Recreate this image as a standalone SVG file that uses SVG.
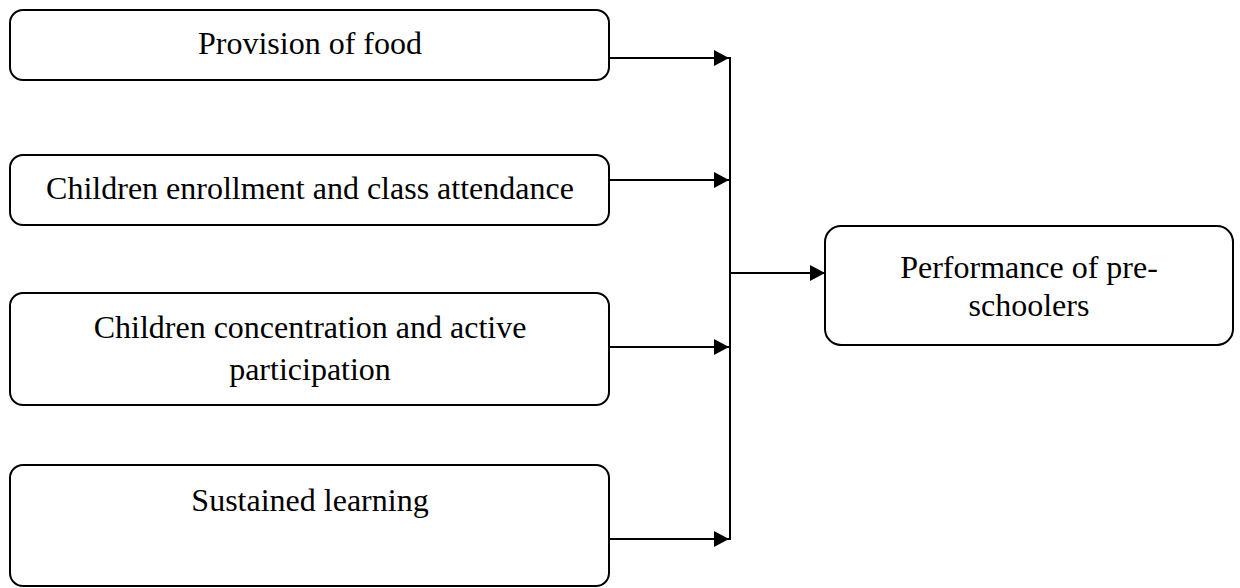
<svg xmlns="http://www.w3.org/2000/svg" width="1240" height="588" viewBox="0 0 1240 588">
<style>
.box{fill:#fff;stroke:#000;stroke-width:2}
.t{font-family:"Liberation Serif","Times New Roman",serif;font-size:32px;fill:#000;text-anchor:middle}
.c{stroke:#000;stroke-width:2;fill:none}
</style>
<defs>
<marker id="ah" markerWidth="16" markerHeight="16" refX="15" refY="8" orient="auto" markerUnits="userSpaceOnUse">
<path d="M0,0 L15,8 L0,16 Z" fill="#000"/>
</marker>
</defs>
<rect width="1240" height="588" fill="#fff"/>
<g id="n1"><rect class="box" x="10" y="10" width="599" height="70" rx="13"/><text class="t" x="310" y="54">Provision of food</text></g>
<g id="n2"><rect class="box" x="10" y="155" width="599" height="70" rx="13"/><text class="t" x="310" y="199">Children enrollment and class attendance</text></g>
<g id="n3"><rect class="box" x="10" y="293" width="599" height="112" rx="13"/><text class="t" x="310" y="338">Children concentration and active</text><text class="t" x="310" y="380">participation</text></g>
<g id="n4"><rect class="box" x="10" y="465" width="599" height="121" rx="13"/><text class="t" x="310" y="511">Sustained learning</text></g>
<g id="n5"><rect class="box" x="825" y="226" width="408" height="119" rx="16"/><text class="t" x="1029" y="278">Performance of pre-</text><text class="t" x="1029" y="316">schoolers</text></g>
<g id="connectors">
<line class="c" x1="730" y1="57" x2="730" y2="540"/>
<line class="c" x1="609" y1="58" x2="729" y2="58" marker-end="url(#ah)"/>
<line class="c" x1="609" y1="180" x2="729" y2="180" marker-end="url(#ah)"/>
<line class="c" x1="609" y1="347" x2="729" y2="347" marker-end="url(#ah)"/>
<line class="c" x1="609" y1="539" x2="729" y2="539" marker-end="url(#ah)"/>
<line class="c" x1="730" y1="273" x2="825" y2="273" marker-end="url(#ah)"/>
</g>
</svg>
